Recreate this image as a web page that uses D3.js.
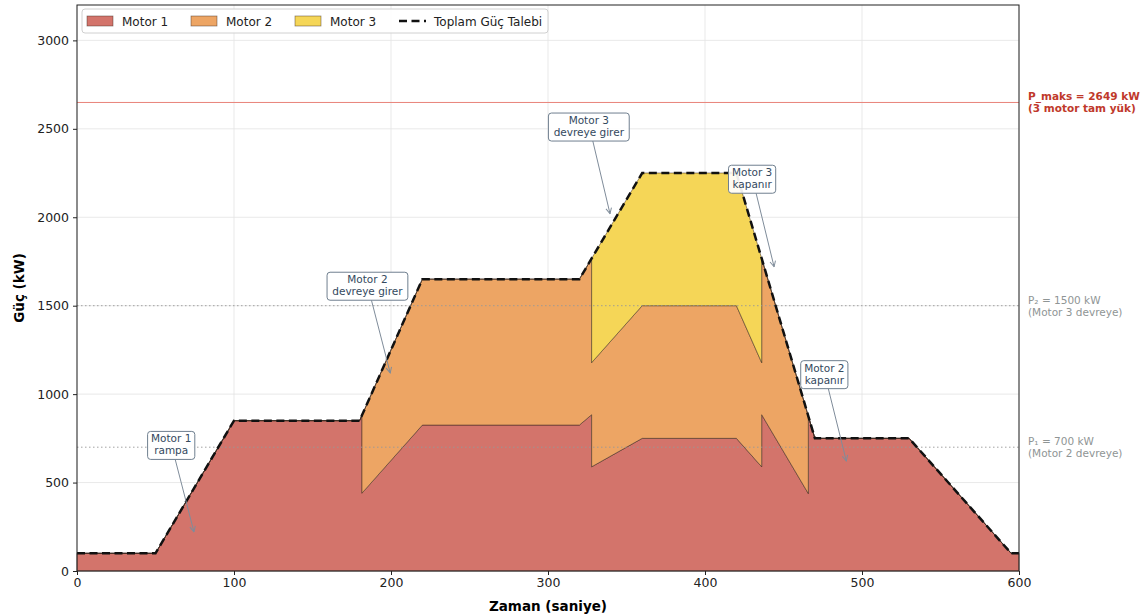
<!DOCTYPE html>
<html><head><meta charset="utf-8">
<script src="https://cdn.jsdelivr.net/npm/d3@7"></script>
<style>
body{margin:0;background:#fff;}
svg{font-family:"DejaVu Sans",sans-serif;}
</style></head>
<body><svg id="c" width="1148" height="616"></svg>
<script>
// ---- data ----
const time   = [0, 50, 100, 180, 181.5, 181.5, 220, 320, 327.8, 327.8, 360, 420, 436.1, 436.1, 465.8, 465.8, 470, 530, 595, 600];
const motor1 = [100, 100, 850, 850, 880, 440, 825, 825, 883.5, 589, 750, 750, 589, 883.5, 438, 876, 750, 750, 100, 100];
const motor2 = [0, 0, 0, 0, 0, 440, 825, 825, 883.5, 589, 750, 750, 589, 883.5, 438, 0, 0, 0, 0, 0];
const motor3 = [0, 0, 0, 0, 0, 0, 0, 0, 0, 589, 750, 750, 589, 0, 0, 0, 0, 0, 0, 0];
const total  = [100, 100, 850, 850, 880, 880, 1650, 1650, 1767, 1767, 2250, 2250, 1767, 1767, 876, 876, 750, 750, 100, 100];
const seriesNames = ["Motor 1", "Motor 2", "Motor 3"];
const totalName = "Toplam Güç Talebi";
const xTicks = [0, 100, 200, 300, 400, 500, 600];
const yTicks = [0, 500, 1000, 1500, 2000, 2500, 3000];
const pMax = 2649, p2 = 1500, p1 = 700;
const pMaxLabel = ["P_maks = 2649 kW", "(3 motor tam yük)"];
const p2Label = ["P₂ = 1500 kW", "(Motor 3 devreye)"];
const p1Label = ["P₁ = 700 kW", "(Motor 2 devreye)"];
const annText = [["Motor 1","rampa"],["Motor 2","devreye girer"],["Motor 3","devreye girer"],["Motor 3","kapanır"],["Motor 2","kapanır"]];
const annTarget = [[74.5,221],[199.5,1120],[339.5,2020],[444,1720],[490,622]];
const annBox = [[60,710],[185,1610],[326,2510],[430,2215],[476,1110]];

// ---- layout ----
const svg = d3.select("#c");
const L = 77, R = 1019, T = 5, B = 571;
const x = d3.scaleLinear().domain([0, 600]).range([L, R]);
const y = d3.scaleLinear().domain([0, 3200]).range([B, T]);
const colors = ["#d3746b", "#eda564", "#f5d657"];

// grid
const g = svg.append("g");
g.selectAll(".gx").data(xTicks).join("line").attr("x1", d=>x(d)).attr("x2", d=>x(d)).attr("y1", T).attr("y2", B)
  .attr("stroke", "#e3e3e3").attr("stroke-width", 0.8);
g.selectAll(".gy").data(yTicks).join("line").attr("x1", L).attr("x2", R).attr("y1", d=>y(d)).attr("y2", d=>y(d))
  .attr("stroke", "#e3e3e3").attr("stroke-width", 0.8);

// stacked areas
const rows = time.map((t,i)=>({t, m1:motor1[i], m2:motor2[i], m3:motor3[i], tot:total[i]}));
const stack = d3.stack().keys(["m1","m2","m3"])(rows);
const area = d3.area().x(d=>x(d.data.t)).y0(d=>y(d[0])).y1(d=>y(d[1]));
stack.forEach((s,i)=>{
  svg.append("path").attr("d", area(s)).attr("fill", colors[i])
    .attr("stroke", "rgba(60,40,30,0.75)").attr("stroke-width", 0.7).attr("stroke-linejoin","round");
});

// threshold lines
svg.append("line").attr("x1", L).attr("x2", R).attr("y1", y(pMax)).attr("y2", y(pMax))
  .attr("stroke", "#e8837a").attr("stroke-width", 1);
[p2, p1].forEach(v=>{
  svg.append("line").attr("x1", L).attr("x2", R).attr("y1", y(v)).attr("y2", y(v))
    .attr("stroke", "#999").attr("stroke-width", 0.9).attr("stroke-dasharray", "1.5,2.5");
});

// total line
const line = d3.line().x((d)=>x(d.t)).y(d=>y(d.tot));
svg.append("path").attr("d", line(rows)).attr("fill","none").attr("stroke","#111")
  .attr("stroke-width", 2.5).attr("stroke-dasharray","8,4.5");

// annotations
const defs = svg.append("defs");
defs.append("marker").attr("id","ah").attr("viewBox","0 0 10 10").attr("refX",9).attr("refY",5)
  .attr("markerWidth",7).attr("markerHeight",7).attr("orient","auto-start-reverse")
  .append("path").attr("d","M1,1 L9,5 L1,9").attr("fill","none").attr("stroke","#7f8c9a").attr("stroke-width",1.4);
annText.forEach((lines,i)=>{
  const bx = x(annBox[i][0]), by = y(annBox[i][1]);
  const tx = x(annTarget[i][0]), ty = y(annTarget[i][1]);
  const grp = svg.append("g");
  grp.append("line").attr("x1", bx+4).attr("y1", by+14).attr("x2", tx).attr("y2", ty)
    .attr("stroke","#7f8c9a").attr("stroke-width",1).attr("marker-end","url(#ah)");
  const w = Math.max(...lines.map(s=>s.length))*5.6 + 8;
  grp.append("rect").attr("x", bx - w/2).attr("y", by-14).attr("width", w).attr("height", 28)
    .attr("rx",3).attr("fill","#fff").attr("fill-opacity",0.92).attr("stroke","#6f7f8f").attr("stroke-width",1);
  lines.forEach((s,j)=>grp.append("text").attr("x", bx).attr("y", by-3+j*12).attr("text-anchor","middle")
    .attr("font-size",10.5).attr("fill","#34495e").text(s));
});

// frame
svg.append("rect").attr("x",L).attr("y",T).attr("width",R-L).attr("height",B-T).attr("fill","none").attr("stroke","#222").attr("stroke-width",1);

// axes
const xa = svg.append("g").attr("transform",`translate(0,${B})`).call(d3.axisBottom(x).tickValues(xTicks).tickFormat(d3.format("d")).tickSize(4).tickPadding(3));
const ya = svg.append("g").attr("transform",`translate(${L},0)`).call(d3.axisLeft(y).tickValues(yTicks).tickFormat(d3.format("d")).tickSize(4).tickPadding(4));
[xa,ya].forEach(a=>{a.select(".domain").remove(); a.selectAll("text").attr("font-size",12.5).attr("fill","#222").attr("font-family","DejaVu Sans"); a.selectAll("line").attr("stroke","#222");});

svg.append("text").attr("x",(L+R)/2).attr("y",611).attr("text-anchor","middle").attr("font-size",13.5).attr("font-weight","bold").text("Zaman (saniye)");
svg.append("text").attr("transform",`translate(24,${(T+B)/2}) rotate(-90)`).attr("text-anchor","middle").attr("font-size",13.5).attr("font-weight","bold").text("Güç (kW)");

// right labels
function rlabel(lines, v, col, bold){
  lines.forEach((s,j)=>svg.append("text").attr("x",1028).attr("y",y(v)-2+j*12).attr("font-size",10.5)
    .attr("font-weight",bold?"bold":"normal").attr("fill",col).text(s));
}
rlabel(pMaxLabel, pMax, "#c0392b", true);
rlabel(p2Label, p2, "#8f9595", false);
rlabel(p1Label, p1, "#8f9595", false);

// legend
const lg = svg.append("g");
lg.append("rect").attr("x",82).attr("y",9).attr("width",466).attr("height",24).attr("rx",3).attr("fill","#fff").attr("fill-opacity",0.9).attr("stroke","#d0d0d0");
const lx = [87, 191, 295];
seriesNames.forEach((n,i)=>{
  lg.append("rect").attr("x",lx[i]).attr("y",16).attr("width",26).attr("height",10).attr("fill",colors[i]).attr("stroke","rgba(60,40,30,0.6)").attr("stroke-width",0.7);
  lg.append("text").attr("x",lx[i]+35).attr("y",25.5).attr("font-size",12).attr("fill","#222").text(n);
});
lg.append("line").attr("x1",399).attr("x2",426).attr("y1",21).attr("y2",21).attr("stroke","#111").attr("stroke-width",2.5).attr("stroke-dasharray","8,4.5");
lg.append("text").attr("x",434).attr("y",25.5).attr("font-size",12).attr("fill","#222").text(totalName);
</script></body></html>
